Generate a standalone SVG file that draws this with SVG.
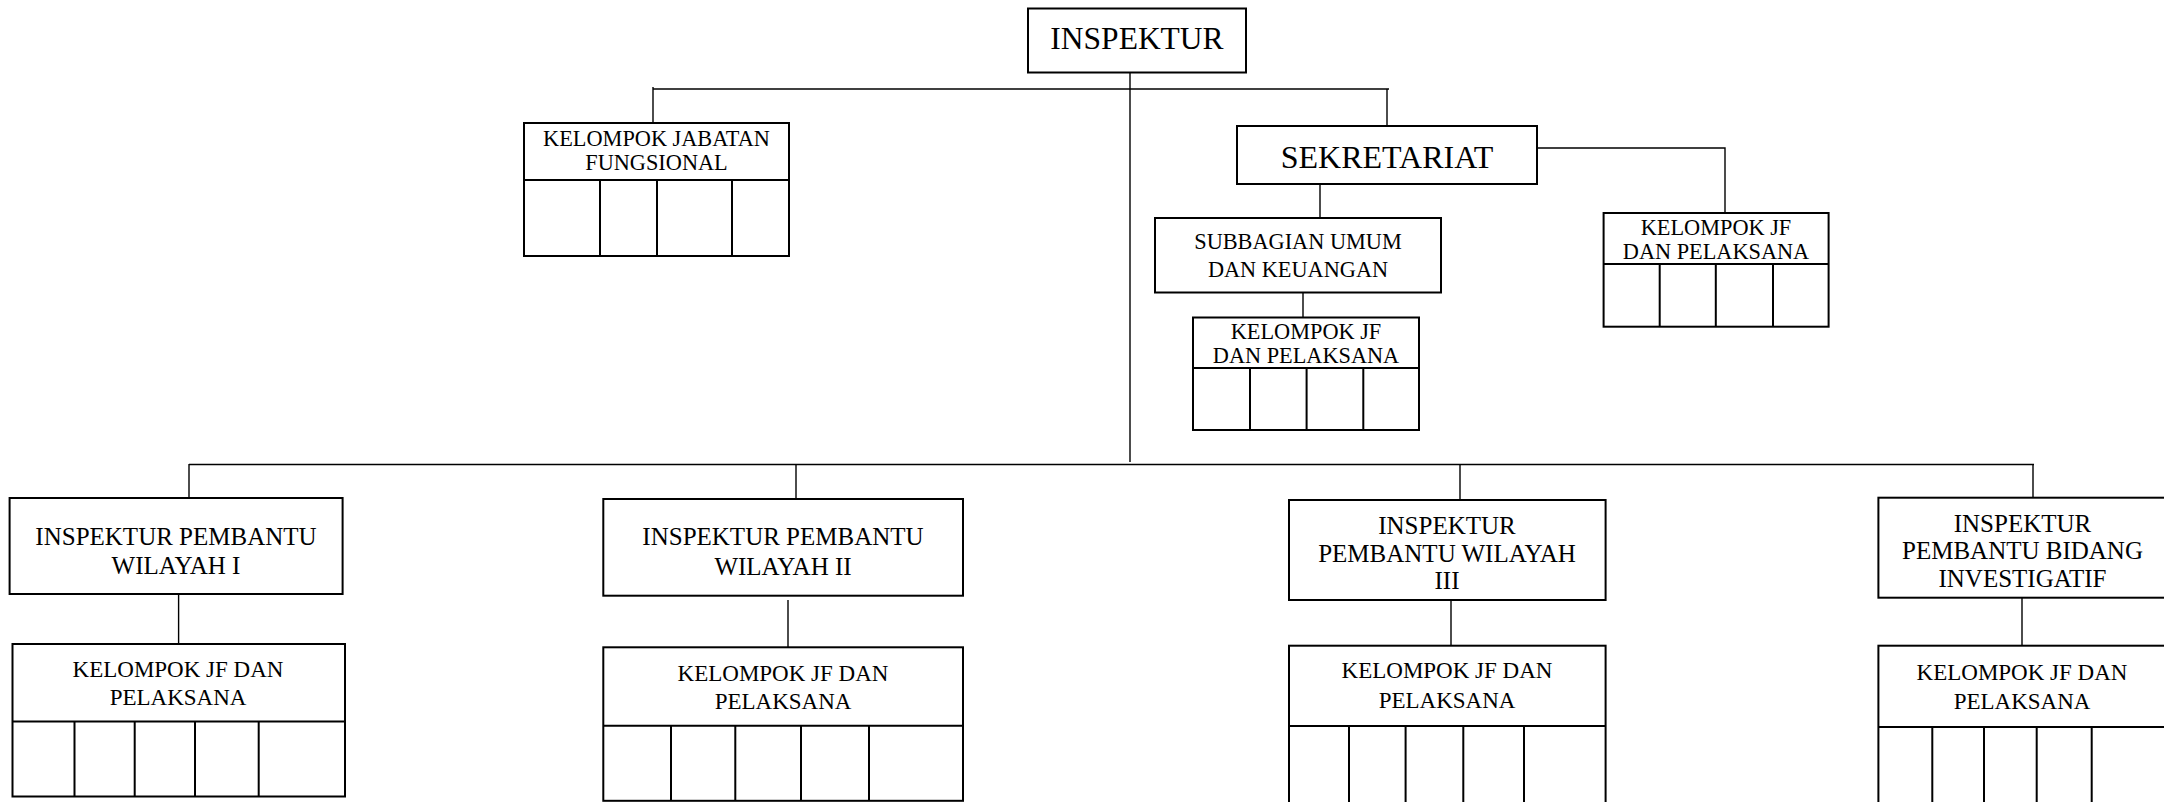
<svg xmlns="http://www.w3.org/2000/svg" width="2164" height="802" viewBox="0 0 2164 802">
<style>
.box{fill:#fff;stroke:#000;stroke-width:2}
.div{fill:none;stroke:#000;stroke-width:2}
.con{fill:none;stroke:#000;stroke-width:1.4}
text{font-family:"Liberation Serif","Times New Roman",serif;fill:#000;text-anchor:middle}
.t31{font-size:31.5px}
.t32{font-size:32px}
.t25{font-size:25px}
.t23{font-size:23px}
.t22{font-size:22.3px}
</style>
<rect width="2164" height="802" fill="#fff"/>
<g id="connectors">
<path class="con" d="M1130 72V462"/>
<path class="con" d="M653 89H1389"/>
<path class="con" d="M653 87V123"/>
<path class="con" d="M1387 89V126"/>
<path class="con" d="M1320 184V218"/>
<path class="con" d="M1537 148H1725V213"/>
<path class="con" d="M1303 290V317"/>
<path class="con" d="M189 464.5H2034"/>
<path class="con" d="M189 464V498"/>
<path class="con" d="M796 464V499"/>
<path class="con" d="M1460 464V500"/>
<path class="con" d="M2033 464V498"/>
<path class="con" d="M178.6 594V644"/>
<path class="con" d="M788 600V647"/>
<path class="con" d="M1451 600V646"/>
<path class="con" d="M2022 598V646"/>
</g>
<g id="inspektur">
<rect class="box" x="1028" y="8.5" width="218" height="64"/>
<text class="t31" x="1137" y="48.5">INSPEKTUR</text>
</g>
<g id="kjf-fungsional">
<rect class="box" x="524" y="123" width="265" height="133"/>
<path class="div" d="M524 180H789M600 180V256M657 180V256M732 180V256"/>
<text class="t22" x="656.5" y="145.5">KELOMPOK JABATAN</text>
<text class="t22" x="656.5" y="170">FUNGSIONAL</text>
</g>
<g id="sekretariat">
<rect class="box" x="1237" y="126" width="300" height="58"/>
<text class="t32" x="1387" y="167.5">SEKRETARIAT</text>
</g>
<g id="subbagian">
<rect class="box" x="1155" y="218" width="286" height="74.5"/>
<text class="t22" x="1298" y="249">SUBBAGIAN UMUM</text>
<text class="t22" x="1298" y="276.5">DAN KEUANGAN</text>
</g>
<g id="kjf-subbagian">
<rect class="box" x="1193" y="317.5" width="226" height="112.5"/>
<path class="div" d="M1193 368H1419M1250 368V430M1306.6 368V430M1363.3 368V430"/>
<text class="t22" x="1306" y="338.5">KELOMPOK JF</text>
<text class="t22" x="1306" y="363">DAN PELAKSANA</text>
</g>
<g id="kjf-sekretariat">
<rect class="box" x="1603.6" y="213" width="225" height="113.7"/>
<path class="div" d="M1603.6 264H1828.6M1659.7 264V326.7M1715.8 264V326.7M1773 264V326.7"/>
<text class="t22" x="1716" y="235">KELOMPOK JF</text>
<text class="t22" x="1716" y="259.3">DAN PELAKSANA</text>
</g>
<g id="ipw1">
<rect class="box" x="9.6" y="498" width="333" height="96"/>
<text class="t25" x="176" y="545">INSPEKTUR PEMBANTU</text>
<text class="t25" x="176" y="574.3">WILAYAH I</text>
</g>
<g id="kjf-ipw1">
<rect class="box" x="12.5" y="644" width="332.5" height="152.5"/>
<path class="div" d="M12.5 721.5H345M74.5 721.5V796.5M134.7 721.5V796.5M195 721.5V796.5M258.7 721.5V796.5"/>
<text class="t23" x="178" y="677.3">KELOMPOK JF DAN</text>
<text class="t23" x="178" y="705">PELAKSANA</text>
</g>
<g id="ipw2">
<rect class="box" x="603.3" y="499" width="359.7" height="96.7"/>
<text class="t25" x="783" y="545">INSPEKTUR PEMBANTU</text>
<text class="t25" x="783" y="575">WILAYAH II</text>
</g>
<g id="kjf-ipw2">
<rect class="box" x="603.3" y="647.3" width="359.7" height="153.5"/>
<path class="div" d="M603.3 725.7H963M671 725.7V801M735.3 725.7V801M801 725.7V801M869 725.7V801"/>
<text class="t23" x="783" y="680.7">KELOMPOK JF DAN</text>
<text class="t23" x="783" y="709.3">PELAKSANA</text>
</g>
<g id="ipw3">
<rect class="box" x="1289" y="500" width="316.6" height="100"/>
<text class="t25" x="1447" y="534">INSPEKTUR</text>
<text class="t25" x="1447" y="561.7">PEMBANTU WILAYAH</text>
<text class="t25" x="1447" y="589">III</text>
</g>
<g id="kjf-ipw3">
<rect class="box" x="1289" y="645.7" width="316.6" height="170"/>
<path class="div" d="M1289 726H1605.6M1349 726V812M1405.6 726V812M1463.3 726V812M1524 726V812"/>
<text class="t23" x="1447" y="678.3">KELOMPOK JF DAN</text>
<text class="t23" x="1447" y="707.7">PELAKSANA</text>
</g>
<g id="ipw-investigatif">
<rect class="box" x="1878.4" y="497.7" width="288" height="100"/>
<text class="t25" x="2022.5" y="531.7">INSPEKTUR</text>
<text class="t25" x="2022.5" y="559">PEMBANTU BIDANG</text>
<text class="t25" x="2022.5" y="587.3">INVESTIGATIF</text>
</g>
<g id="kjf-investigatif">
<rect class="box" x="1878.4" y="645.7" width="288" height="170"/>
<path class="div" d="M1878.4 727H2166M1932.3 727V812M1984 727V812M2036.7 727V812M2091.7 727V812"/>
<text class="t23" x="2022" y="680">KELOMPOK JF DAN</text>
<text class="t23" x="2022" y="709">PELAKSANA</text>
</g>
</svg>
